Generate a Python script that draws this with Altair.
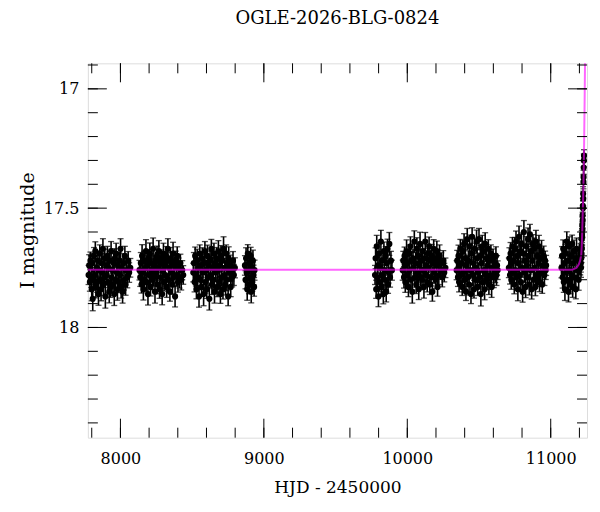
import altair as alt
import pandas as pd

TITLE = "OGLE-2026-BLG-0824"
X_TITLE = "HJD - 2450000"
Y_TITLE = "I magnitude"

# ---- photometry, season by season (HJD-2450000, I mag, error in mmag) ----
t1 = [7778,7782,7787,7791,7796,7800,7804,7807,7812,7816,7821,7825,7829,7834,7838,7843,7847,7851,7856,7860,
      7865,7869,7873,7878,7882,7887,7891,7895,7900,7904,7909,7913,7917,7922,7926,7931,7935,7939,7944,7948,
      7953,7957,7961,7966,7970,7975,7979,7983,7988,7992,7997,8001,8005,8010,8015,8020,8025,8031,8036,8042,
      8048,8054,8061,8069]
m1 = [17.78,17.74,17.81,17.72,17.79,17.84,17.73,17.88,17.80,17.70,17.78,17.68,17.83,17.75,17.81,17.72,17.86,17.76,17.69,17.80,
      17.84,17.73,17.77,17.67,17.82,17.79,17.71,17.87,17.74,17.78,17.70,17.81,17.75,17.85,17.72,17.83,17.68,17.79,17.76,17.82,
      17.73,17.86,17.71,17.80,17.69,17.77,17.84,17.74,17.81,17.72,17.78,17.67,17.83,17.75,17.85,17.73,17.80,17.70,17.82,17.76,
      17.79,17.72,17.77,17.75]
e1 = [40,45,38,36,42,48,40,50,44,35,41,39,46,37,43,40,47,41,36,44,
      48,39,37,42,46,43,38,49,36,41,40,45,38,47,37,44,40,42,36,46,
      39,48,40,37,43,38,46,41,44,36,40,42,47,35,48,39,43,40,45,37,
      44,38,41,39]

t2 = [8133,8138,8142,8147,8151,8156,8160,8165,8169,8174,8178,8183,8187,8192,8196,8201,8205,8210,8214,8219,
      8223,8228,8232,8237,8241,8246,8250,8255,8259,8264,8268,8273,8277,8282,8286,8291,8295,8300,8304,8309,
      8313,8318,8322,8327,8331,8336,8340,8345,8349,8354,8358,8363,8367,8372,8376,8381,8386,8391,8396,8401,
      8406,8412,8418,8424,8431,8438]
m2 = [17.76,17.79,17.73,17.82,17.70,17.77,17.84,17.72,17.80,17.75,17.68,17.81,17.74,17.86,17.71,17.78,17.69,17.83,17.76,17.73,
      17.80,17.67,17.79,17.74,17.85,17.72,17.77,17.70,17.82,17.75,17.68,17.84,17.73,17.79,17.71,17.86,17.76,17.69,17.81,17.74,
      17.78,17.70,17.83,17.72,17.67,17.80,17.75,17.85,17.71,17.77,17.73,17.82,17.69,17.79,17.74,17.87,17.72,17.78,17.70,17.81,
      17.75,17.79,17.73,17.80,17.76,17.78]
e2 = [41,38,44,36,47,40,45,39,42,37,48,40,43,46,36,41,44,38,47,39,
      42,45,37,40,48,36,43,41,39,46,44,38,42,47,35,45,40,43,37,41,
      46,39,44,36,42,48,38,40,45,37,43,41,47,39,36,44,40,46,38,42,
      41,45,37,43,40,39]

t3 = [8508,8512,8517,8521,8526,8530,8535,8539,8544,8548,8553,8557,8562,8566,8571,8575,8580,8584,8589,8593,
      8598,8602,8607,8611,8616,8620,8625,8629,8634,8638,8643,8647,8652,8656,8661,8665,8670,8674,8679,8683,
      8688,8692,8697,8701,8706,8710,8715,8719,8724,8728,8733,8737,8742,8746,8751,8755,8760,8764,8769,8774,
      8779,8785,8791,8798]
m3 = [17.77,17.73,17.81,17.70,17.78,17.84,17.72,17.79,17.75,17.87,17.69,17.80,17.74,17.83,17.71,17.77,17.86,17.73,17.68,17.81,
      17.76,17.84,17.70,17.79,17.74,17.88,17.72,17.78,17.67,17.82,17.75,17.80,17.69,17.85,17.73,17.77,17.71,17.83,17.76,17.68,
      17.81,17.74,17.86,17.70,17.79,17.72,17.84,17.67,17.78,17.75,17.82,17.69,17.80,17.73,17.87,17.71,17.77,17.74,17.83,17.76,
      17.79,17.72,17.78,17.75]
e3 = [39,44,41,37,46,40,48,38,43,45,36,42,47,39,44,41,49,37,40,46,
      43,38,45,41,36,47,40,44,39,42,46,37,43,48,40,38,45,41,36,44,
      42,47,39,43,37,45,41,50,38,40,44,36,46,42,39,48,37,43,41,45,
      40,38,44,42]

t4 = [8868,8872,8876,8880,8884,8888,8892,8896,8900,8904,8908,8912,8916,8920,8924,8928,8932,8935]
m4 = [17.74,17.80,17.71,17.77,17.84,17.69,17.76,17.82,17.73,17.79,17.70,17.85,17.75,17.81,17.72,17.78,17.83,17.76]
e4 = [41,38,44,40,46,37,42,39,45,43,36,47,40,38,44,41,39,42]

t5 = [9775,9779,9783,9787,9791,9795,9799,9803,9808,9812,9816,9820,9824,9828,9833,9837,9841,9845,9849,9853,
      9858,9862,9866,9870,9875,9880,9886,9893]
m5 = [17.78,17.71,17.84,17.66,17.79,17.74,17.87,17.69,17.81,17.75,17.64,17.83,17.72,17.78,17.86,17.68,17.76,17.80,17.70,17.85,
      17.73,17.67,17.82,17.77,17.65,17.79,17.72,17.76]
e5 = [40,44,38,46,41,37,43,45,39,42,47,40,36,44,41,38,45,42,39,43,
      46,40,37,44,48,41,39,42]

t6 = [9968,9972,9977,9981,9986,9990,9995,9999,10004,10008,10013,10017,10022,10026,10031,10035,10040,10044,10049,10053,
      10058,10062,10067,10071,10076,10080,10085,10089,10094,10098,10103,10107,10112,10116,10121,10125,10130,10134,10139,10143,
      10148,10152,10157,10161,10166,10170,10175,10179,10184,10188,10193,10197,10202,10206,10211,10215,10220,10225,10231,10237,
      10244,10251,10258,10266]
m6 = [17.76,17.72,17.79,17.70,17.81,17.74,17.68,17.78,17.73,17.83,17.69,17.76,17.66,17.80,17.72,17.85,17.71,17.75,17.64,17.79,
      17.73,17.82,17.67,17.77,17.70,17.84,17.74,17.65,17.79,17.72,17.80,17.68,17.76,17.83,17.71,17.64,17.78,17.74,17.81,17.69,
      17.75,17.66,17.82,17.72,17.79,17.70,17.85,17.73,17.67,17.77,17.71,17.80,17.74,17.68,17.83,17.72,17.78,17.70,17.76,17.73,
      17.79,17.72,17.77,17.75]
e6 = [42,39,45,37,43,40,47,38,44,41,36,46,40,43,39,48,37,42,45,41,
      44,38,46,40,37,43,41,49,39,45,42,36,44,47,40,38,43,45,41,37,
      46,39,42,44,36,48,40,43,38,45,41,37,47,42,39,44,40,46,38,43,
      40,42,39,41]

t7 = [10344,10348,10353,10357,10361,10366,10370,10374,10379,10383,10387,10392,10396,10400,10405,10409,10413,10418,10422,10426,
      10431,10435,10439,10444,10448,10452,10457,10461,10465,10470,10474,10478,10483,10487,10491,10496,10500,10504,10509,10513,
      10517,10522,10526,10530,10535,10539,10543,10548,10552,10556,10561,10565,10569,10574,10578,10583,10588,10593,10598,10603,
      10608,10613,10618,10622,10626,10630]
m7 = [17.76,17.72,17.79,17.70,17.81,17.74,17.67,17.78,17.73,17.83,17.68,17.77,17.65,17.80,17.71,17.85,17.74,17.63,17.79,17.72,
      17.82,17.66,17.76,17.86,17.69,17.62,17.78,17.73,17.84,17.67,17.75,17.80,17.64,17.71,17.83,17.77,17.63,17.79,17.70,17.86,
      17.73,17.66,17.81,17.68,17.76,17.84,17.65,17.78,17.71,17.80,17.74,17.67,17.82,17.72,17.78,17.69,17.83,17.75,17.71,17.79,
      17.73,17.77,17.70,17.78,17.74,17.76]
e7 = [40,43,38,45,41,47,39,44,42,36,46,40,43,38,48,37,42,45,39,41,
      44,47,36,40,43,38,46,41,37,45,42,39,48,44,36,41,45,40,43,50,
      38,46,40,42,37,44,47,39,43,41,45,38,42,46,40,36,44,41,39,43,
      40,42,38,44,41,39]

t8 = [10708,10712,10716,10720,10725,10729,10733,10737,10741,10746,10750,10754,10758,10762,10767,10771,10775,10779,10783,10788,
      10792,10796,10800,10804,10809,10813,10817,10821,10825,10830,10834,10838,10842,10846,10851,10855,10859,10863,10867,10872,
      10876,10880,10884,10888,10893,10897,10901,10905,10909,10914,10918,10922,10926,10931,10936,10941,10946,10951,10956,10961,
      10965,10968]
m8 = [17.75,17.71,17.78,17.69,17.80,17.73,17.66,17.77,17.72,17.82,17.67,17.76,17.64,17.79,17.70,17.84,17.73,17.62,17.78,17.68,
      17.81,17.65,17.75,17.85,17.69,17.60,17.77,17.72,17.83,17.66,17.74,17.79,17.63,17.70,17.82,17.61,17.76,17.68,17.84,17.72,
      17.65,17.80,17.67,17.75,17.83,17.64,17.78,17.70,17.79,17.73,17.66,17.81,17.71,17.77,17.68,17.82,17.74,17.70,17.78,17.72,
      17.76,17.74]
e8 = [41,44,38,46,40,43,37,45,42,39,47,40,44,37,42,48,39,45,41,43,
      38,46,40,44,36,48,42,39,45,41,43,37,47,40,44,42,38,46,41,49,
      39,43,45,40,37,47,42,44,38,41,46,40,43,39,45,37,42,41,44,40,
      39,42]

t9 = [11075,11079,11083,11087,11091,11095,11099,11103,11108,11112,11116,11120,11124,11128,11133,11137,11141,11145,11149,11153,
      11158,11162,11166,11170,11175,11180,11185,11190,11195,11200,11206,11211]
m9 = [17.75,17.70,17.79,17.67,17.81,17.73,17.84,17.69,17.77,17.64,17.80,17.72,17.85,17.66,17.76,17.82,17.70,17.78,17.65,17.83,
      17.73,17.68,17.79,17.71,17.84,17.67,17.76,17.72,17.80,17.74,17.71,17.75]
e9 = [42,39,45,37,43,40,47,38,44,41,46,36,43,40,45,39,42,48,37,44,
      41,46,38,43,40,45,39,42,44,38,41,40]

# rising part of the event
t_rise = [11206,11208,11210,11212,11213,11214,11215,11216,11217,11218,11219,11220,
          11221,11222,11223,11224,11225,11226,11227,11228,11229,11230,11231,11232]
m_rise = [17.74,17.69,17.73,17.67,17.71,17.66,17.69,17.63,17.67,17.61,17.62,17.57,
          17.59,17.53,17.55,17.49,17.50,17.44,17.46,17.39,17.37,17.33,17.30,17.28]
e_rise = [40,42,38,39,37,36,38,35,36,34,35,33,34,32,33,31,32,30,31,29,29,28,27,25]

# ---- model light curve ----
model_t = [7773, 11150, 11180, 11196, 11205, 11213, 11217, 11220, 11224, 11228, 11231, 11234, 11237, 11240]
model_m = [17.758, 17.758, 17.75, 17.735, 17.72, 17.695, 17.65, 17.59, 17.50, 17.41, 17.31, 17.17, 17.02, 16.84]

# ---- axis ticks ----
x_labels = [8000, 9000, 10000, 11000]
x_minor = [7800, 8000, 8200, 8400, 8600, 8800, 9000, 9200, 9400, 9600, 9800,
           10000, 10200, 10400, 10600, 10800, 11000, 11200]
y_labels = [17, 17.5, 18]
y_minor = [16.9, 17.0, 17.1, 17.2, 17.3, 17.4, 17.5, 17.6, 17.7, 17.8, 17.9,
           18.0, 18.1, 18.2, 18.3, 18.4]

X_DOMAIN = [7773, 11253]
Y_DOMAIN = [16.893, 18.462]

seasons = [(t1, m1, e1), (t2, m2, e2), (t3, m3, e3), (t4, m4, e4), (t5, m5, e5),
           (t6, m6, e6), (t7, m7, e7), (t8, m8, e8), (t9, m9, e9), (t_rise, m_rise, e_rise)]
frames = []
for i, (tt, mm, ee) in enumerate(seasons):
    assert len(tt) == len(mm) == len(ee), (i, len(tt), len(mm), len(ee))
    frames.append(pd.DataFrame({"t": tt, "m": mm, "e": [v / 1000 for v in ee]}))
phot = pd.concat(frames, ignore_index=True)
phot["lo"] = phot["m"] - phot["e"]
phot["hi"] = phot["m"] + phot["e"]

model = pd.DataFrame({"t": model_t, "m": model_m})
xmaj = pd.DataFrame({"v": x_labels})
xmin = pd.DataFrame({"v": x_minor})
ymaj = pd.DataFrame({"v": y_labels})
ymin = pd.DataFrame({"v": y_minor})

W, H = 500, 375
FONT = "DejaVu Serif"
MAJ, MIN = 19, 10

xs = alt.Scale(domain=X_DOMAIN, nice=False, zero=False)
ys = alt.Scale(domain=Y_DOMAIN, reverse=True, nice=False, zero=False)

ax_x = alt.Axis(values=x_labels, format="d", ticks=False, tickSize=0, domain=False, grid=False,
                labelFont=FONT, labelFontSize=16, labelColor="black", labelPadding=13,
                title=X_TITLE, titleFont=FONT, titleFontSize=17, titleFontWeight="normal",
                titleColor="black", titleY=55, titleBaseline="alphabetic")
ax_y = alt.Axis(values=y_labels, format="~g", ticks=False, tickSize=0, domain=False, grid=False,
                labelFont=FONT, labelFontSize=16, labelColor="black", labelPadding=9,
                title=Y_TITLE, titleFont=FONT, titleFontSize=19, titleFontWeight="normal",
                titleColor="black", titleAngle=270, titleX=-54, titleY=167,
                titleAlign="center", titleBaseline="alphabetic")

X = lambda f: alt.X(f, type="quantitative", scale=xs, axis=ax_x)
Y = lambda f: alt.Y(f, type="quantitative", scale=ys, axis=ax_y)

base = alt.Chart(phot)
bars = base.mark_rule(color="black", strokeWidth=1.6).encode(x=X("t"), y=Y("lo"), y2="hi")
cap_lo = base.mark_tick(orient="horizontal", size=6, thickness=1.3, color="black").encode(x=X("t"), y=Y("lo"))
cap_hi = base.mark_tick(orient="horizontal", size=6, thickness=1.3, color="black").encode(x=X("t"), y=Y("hi"))
pts = base.mark_circle(size=38, color="black", opacity=1).encode(x=X("t"), y=Y("m"))

line = alt.Chart(model).mark_line(color="#ff00ff", opacity=0.6, strokeWidth=2, clip=True).encode(
    x=X("t"), y=Y("m"))

def xticks(df, length):
    bottom = alt.Chart(df).mark_rule(color="black", strokeWidth=1).encode(
        x=X("v"), y=alt.value(H), y2=alt.value(H - length))
    top = alt.Chart(df).mark_rule(color="black", strokeWidth=1).encode(
        x=X("v"), y=alt.value(0), y2=alt.value(length))
    return [bottom, top]

def yticks(df, length):
    left = alt.Chart(df).mark_rule(color="black", strokeWidth=1).encode(
        y=Y("v"), x=alt.value(0), x2=alt.value(length))
    right = alt.Chart(df).mark_rule(color="black", strokeWidth=1).encode(
        y=Y("v"), x=alt.value(W), x2=alt.value(W - length))
    return [left, right]

layers = [bars, cap_lo, cap_hi, pts, line] + xticks(xmin, MIN) + xticks(xmaj, MAJ) + yticks(ymin, MIN) + yticks(ymaj, MAJ)

chart = alt.layer(*layers).properties(
    width=W, height=H,
    title=alt.Title(TITLE, font=FONT, fontSize=18, fontWeight="normal", color="black",
                    anchor="middle", baseline="alphabetic", offset=21),
    autosize=alt.AutoSizeParams(type="none"),
    padding={"left": 80, "top": 55, "right": 5, "bottom": 62},
).configure_view(stroke="black", strokeWidth=1).configure(background="white")

chart.save("out.html", embed_options={"renderer": "svg", "actions": False})
